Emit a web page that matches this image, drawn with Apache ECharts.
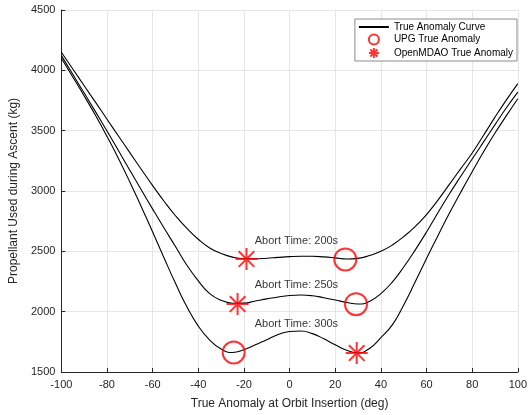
<!DOCTYPE html>
<html>
<head>
<meta charset="utf-8">
<script src="https://cdn.jsdelivr.net/npm/echarts@6/dist/echarts.min.js"></script>
<style>
  html, body { margin: 0; padding: 0; background: #fff; }
  #chart { width: 530px; height: 415px; }
</style>
</head>
<body>
<div id="chart"></div>
<script>
// True anomaly sample points (deg), every 5 degrees
const trueAnomaly = [
  -100, -95, -90, -85, -80, -75, -70, -65, -60, -55, -50, -45, -40, -35, -30, -25, -20, -15, -10, -5,
  0, 5, 10, 15, 20, 25, 30, 35, 40, 45, 50, 55, 60, 65, 70, 75, 80, 85, 90, 95, 100
];

// Propellant used during ascent (kg), abort time 200 s
const prop200 = [
  4150, 4011, 3872, 3734, 3595, 3456, 3318, 3180, 3045, 2915, 2795, 2690, 2600, 2528, 2482, 2452, 2439, 2438, 2443, 2450,
  2456, 2459, 2459, 2454, 2446, 2437, 2442, 2465, 2500, 2552, 2622, 2705, 2805, 2925, 3055, 3185, 3315, 3462, 3612, 3755, 3890
];
// abort time 250 s
const prop250 = [
  4122, 3967, 3812, 3656, 3497, 3335, 3172, 3010, 2850, 2693, 2540, 2385, 2255, 2150, 2095, 2070, 2071, 2088, 2106, 2122,
  2134, 2138, 2132, 2116, 2097, 2076, 2063, 2085, 2150, 2245, 2370, 2510, 2660, 2820, 2975, 3122, 3265, 3407, 3550, 3690, 3820
];
// abort time 300 s
const prop300 = [
  4100, 3945, 3788, 3625, 3452, 3270, 3075, 2870, 2660, 2445, 2235, 2040, 1880, 1765, 1690, 1662, 1685, 1725, 1768, 1810,
  1836, 1840, 1818, 1775, 1725, 1680, 1658, 1695, 1785, 1890, 2055, 2245, 2440, 2630, 2815, 2990, 3160, 3325, 3480, 3625, 3765
];

// Optimum true anomaly found by each method: [deg, kg]
const upgPoints = [[24.4, 2433], [29.1, 2062], [-24.5, 1662]];
const openMdaoPoints = [[-18.9, 2436], [-22.8, 2063], [29.4, 1657]];

// Curve annotations
const abortLabels = ['Abort Time: 200s', 'Abort Time: 250s', 'Abort Time: 300s'];
const abortLabelPos = [[3, 2583], [3, 2225], [3, 1900]];

const xTicks = { min: -100, max: 100, interval: 20 };
const yTicks = { min: 1500, max: 4500, interval: 500 };

const FONT = 'Liberation Sans, Arial, Helvetica, sans-serif';
const AXIS_COLOR = '#262626';
const STAR = 'path://M0,-10L0,10M-10,0L10,0M-7.07,-7.07L7.07,7.07M-7.07,7.07L7.07,-7.07';

function pairs(ys) {
  return trueAnomaly.map((x, i) => [x, ys[i]]);
}

function curve(ys) {
  return {
    name: 'True Anomaly Curve',
    type: 'line',
    data: pairs(ys),
    smooth: 0.5,
    showSymbol: false,
    lineStyle: { color: '#000', width: 1.1 },
    itemStyle: { color: '#000' },
    z: 2,
    silent: true
  };
}

const chart = echarts.init(document.getElementById('chart'), null, { renderer: 'canvas' });

chart.setOption({
  animation: false,
  backgroundColor: '#fff',
  textStyle: { fontFamily: FONT },
  grid: { left: 57, right: 3, top: 10, bottom: 35 },
  legend: {
    orient: 'vertical',
    right: 13,
    top: 19,
    backgroundColor: '#fff',
    borderColor: '#8c8c8c',
    borderWidth: 1,
    padding: [3, 4, 2, 3],
    itemGap: 1.5,
    itemWidth: 30,
    itemHeight: 10,
    textStyle: { fontSize: 10, color: '#000', fontFamily: FONT },
    data: [
      { name: 'True Anomaly Curve', itemStyle: { opacity: 0 } },
      { name: 'UPG True Anomaly' },
      { name: 'OpenMDAO True Anomaly' }
    ]
  },
  xAxis: {
    type: 'value',
    min: xTicks.min,
    max: xTicks.max,
    interval: xTicks.interval,
    name: 'True Anomaly at Orbit Insertion (deg)',
    nameLocation: 'middle',
    nameGap: 26,
    nameTextStyle: { fontSize: 12, color: AXIS_COLOR },
    axisLine: { onZero: false, lineStyle: { color: AXIS_COLOR, width: 1 } },
    axisTick: { inside: true, length: 4, lineStyle: { color: AXIS_COLOR } },
    axisLabel: { fontSize: 11, color: AXIS_COLOR, margin: 7, formatter: (v) => String(v) },
    splitLine: { show: true, lineStyle: { color: '#e6e6e6', width: 1 } }
  },
  yAxis: {
    type: 'value',
    min: yTicks.min,
    max: yTicks.max,
    interval: yTicks.interval,
    name: 'Propellant Used during Ascent (kg)',
    nameLocation: 'middle',
    nameGap: 31,
    nameTextStyle: { fontSize: 12, color: AXIS_COLOR },
    axisLine: { show: true, onZero: false, lineStyle: { color: AXIS_COLOR, width: 1 } },
    axisTick: { show: true, inside: true, length: 4, lineStyle: { color: AXIS_COLOR } },
    axisLabel: { fontSize: 11, color: AXIS_COLOR, margin: 6, formatter: (v) => String(v) },
    splitLine: { show: true, lineStyle: { color: '#e6e6e6', width: 1 } }
  },
  series: [
    curve(prop200),
    curve(prop250),
    curve(prop300),
    {
      name: 'UPG True Anomaly',
      type: 'scatter',
      data: upgPoints,
      symbol: 'circle',
      symbolSize: 22,
      itemStyle: { color: 'rgba(0,0,0,0)', borderColor: '#ff0000', borderWidth: 2 },
      z: 3
    },
    {
      name: 'OpenMDAO True Anomaly',
      type: 'scatter',
      data: openMdaoPoints,
      symbol: STAR,
      symbolSize: 22,
      itemStyle: { color: 'rgba(0,0,0,0)', borderColor: '#ff0000', borderWidth: 2 },
      z: 3
    },
    {
      name: 'labels',
      type: 'scatter',
      data: abortLabelPos.map((p, i) => ({ value: p, name: abortLabels[i] })),
      symbolSize: 0,
      silent: true,
      label: {
        show: true,
        position: 'inside',
        formatter: (p) => p.name,
        fontSize: 11,
        color: '#000',
        fontFamily: FONT
      },
      z: 4
    }
  ]
});
</script>
</body>
</html>
